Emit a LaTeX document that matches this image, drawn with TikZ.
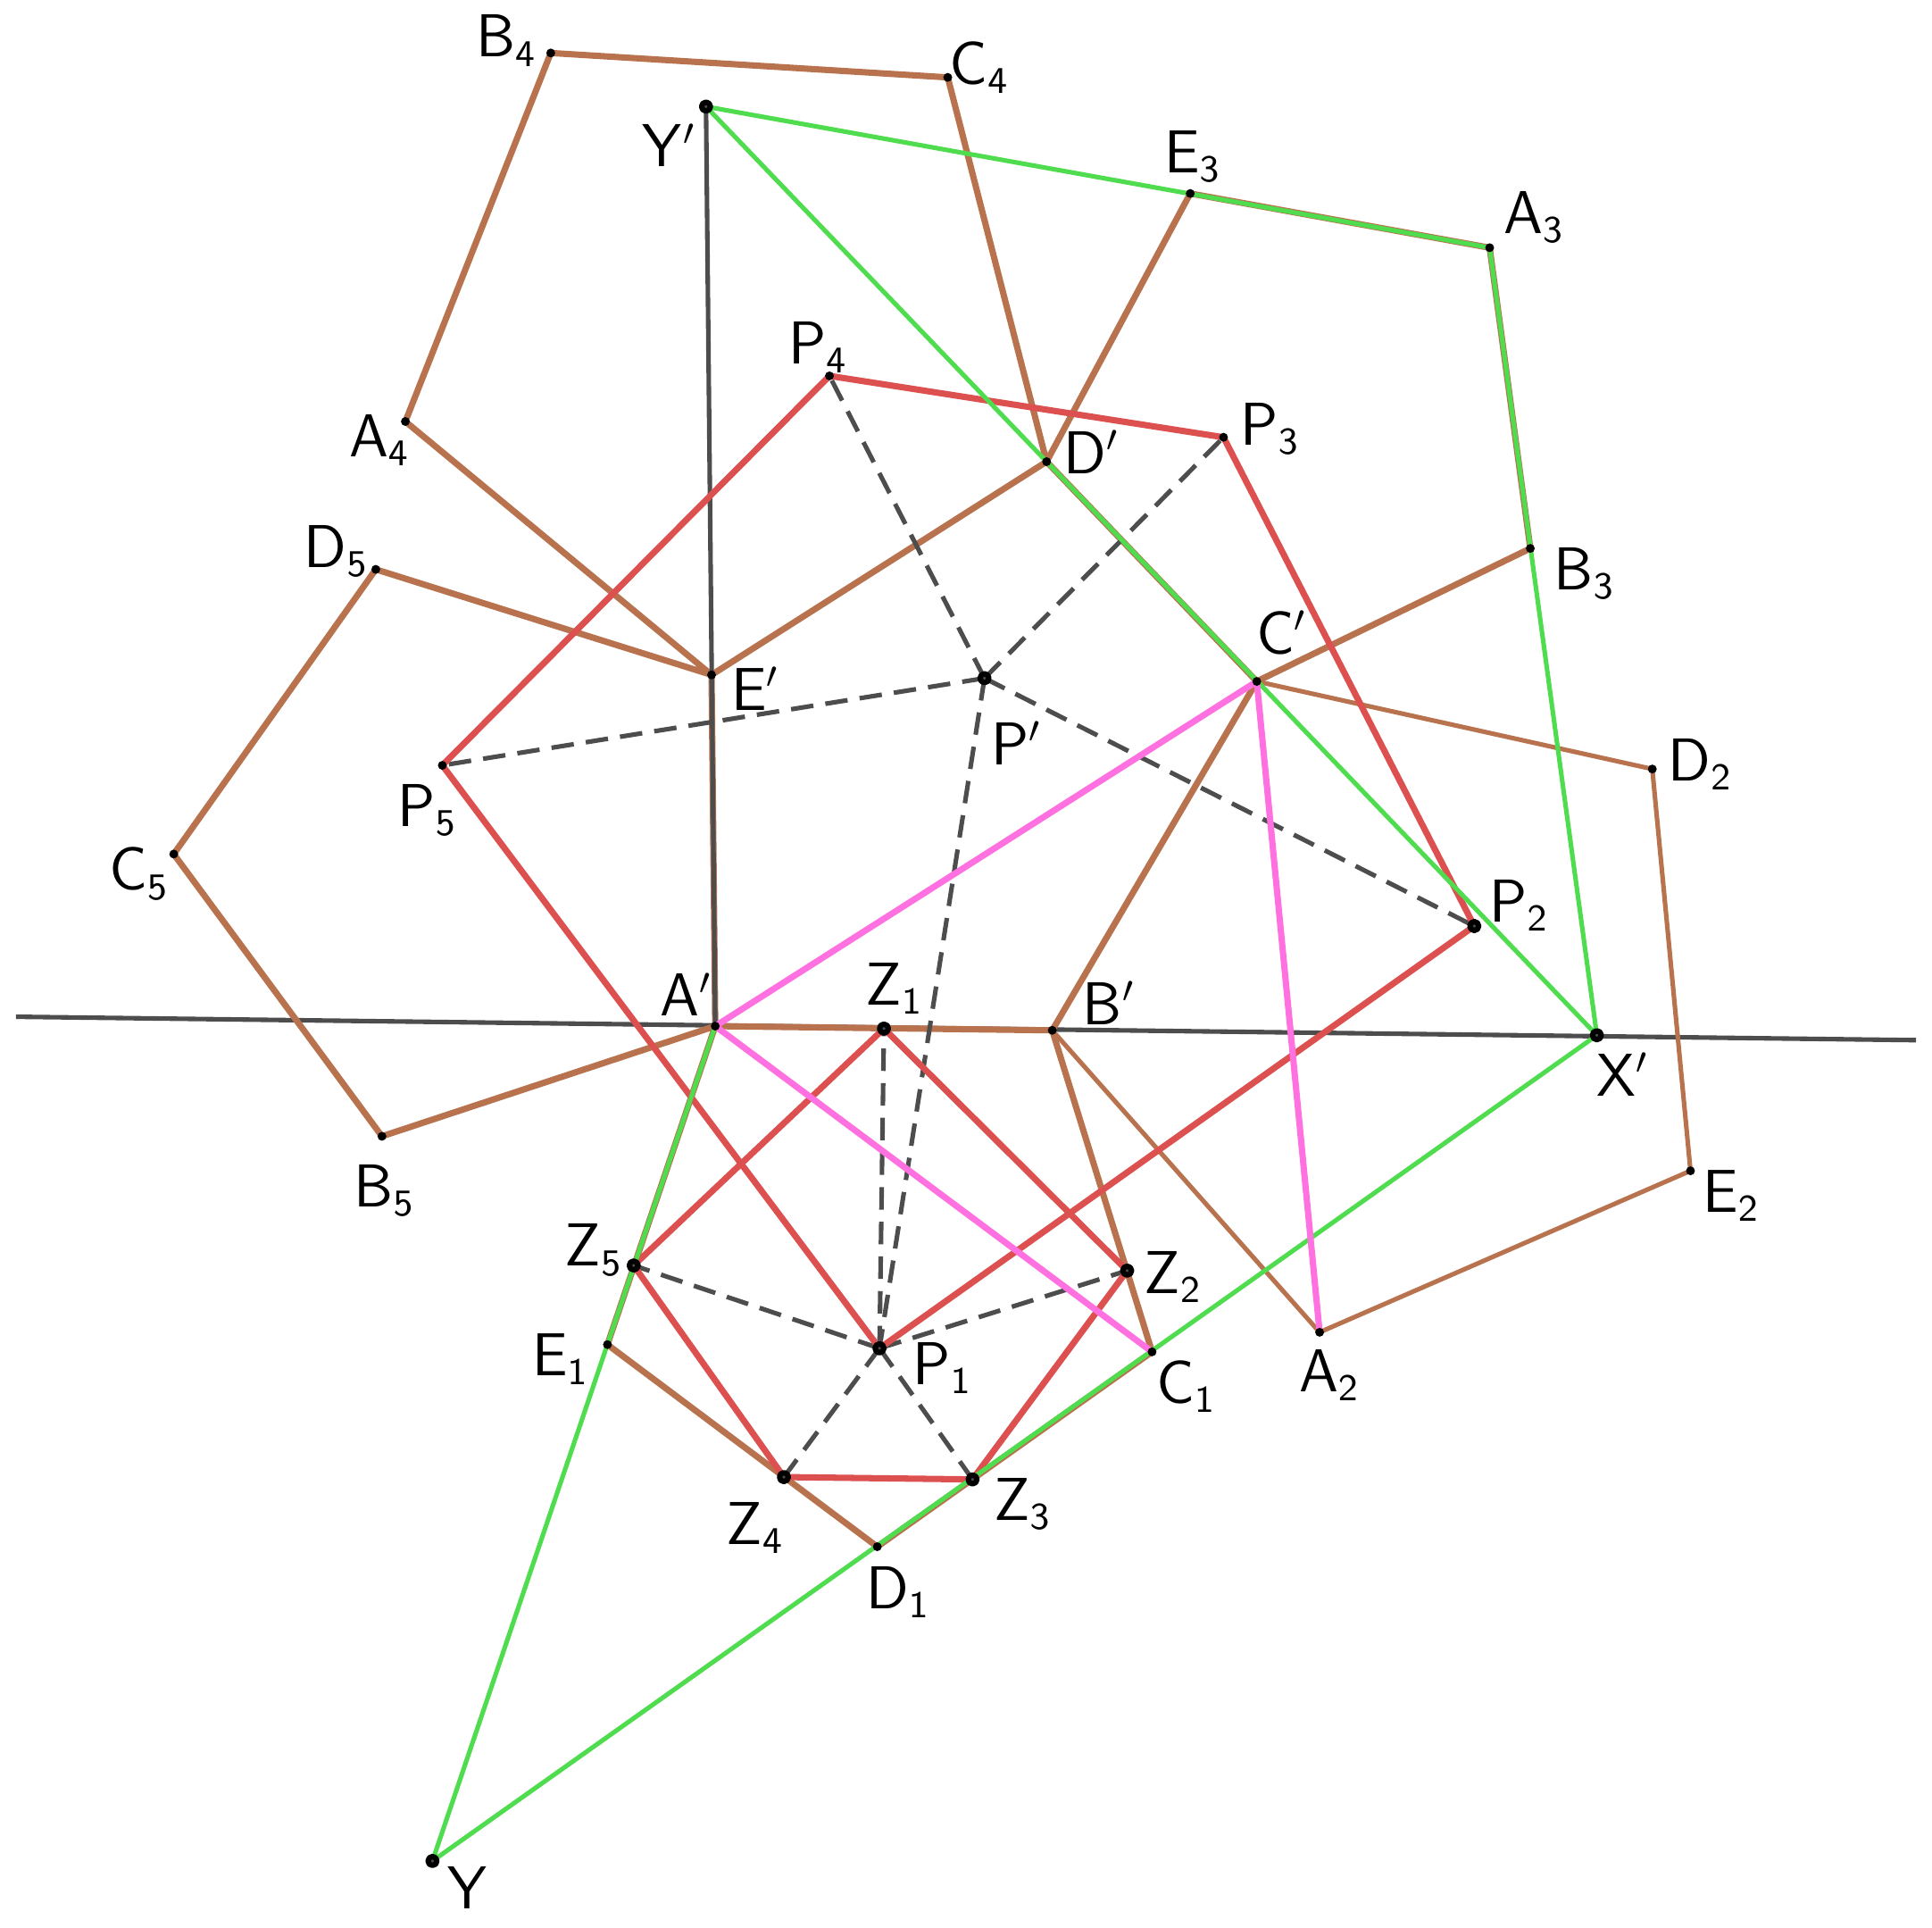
\documentclass[tikz,border=0pt]{standalone}
\definecolor{cbrown}{HTML}{B8734E}
\definecolor{cred}{HTML}{DD5050}
\definecolor{cgreen}{HTML}{4FDD4F}
\definecolor{cpink}{HTML}{FF70E0}
\definecolor{cgray}{HTML}{4D4D4D}
\begin{document}
\begin{tikzpicture}[x=0.01cm,y=-0.01cm,line join=round,font=\fontsize{13.3}{16}\selectfont,
	thickb/.style={cbrown,line width=1.45pt},
	thinb/.style={cbrown,line width=1.05pt},
	redl/.style={cred,line width=1.45pt},
	greenl/.style={cgreen,line width=1.05pt},
	pinkl/.style={cpink,line width=1.45pt},
	grayl/.style={cgray,line width=1.05pt},
	dashl/.style={cgray,line width=1.05pt,dash pattern=on 5.2pt off 2.8pt},
	lbl/.style={inner sep=0pt,text=black,scale=0.97}]
	\useasboundingbox (0,0) rectangle (1568,1564);
	\path
	(13,825) coordinate (L_1)
	(1555,844) coordinate (L_2)
	(580.5,832.6) coordinate (Ap)
	(854,836) coordinate (Bp)
	(1020,552.9) coordinate (Cp)
	(849.4,374.6) coordinate (Dp)
	(577.5,547.6) coordinate (Ep)
	(799,550.3) coordinate (Pp)
	(1296,840) coordinate (Xp)
	(573,86.5) coordinate (Yp)
	(351,1510) coordinate (Y)
	(935,1096.9) coordinate (C_1)
	(712,1255) coordinate (D_1)
	(493,1091) coordinate (E_1)
	(1071,1081) coordinate (A_2)
	(1341,624) coordinate (D_2)
	(1372,950) coordinate (E_2)
	(1209,201) coordinate (A_3)
	(1242,445) coordinate (B_3)
	(966,157) coordinate (E_3)
	(329,342) coordinate (A_4)
	(447,43) coordinate (B_4)
	(769.2,62.8) coordinate (C_4)
	(310,922) coordinate (B_5)
	(141,693) coordinate (C_5)
	(305,462) coordinate (D_5)
	(713.8,1094) coordinate (P_1)
	(1196.5,751.4) coordinate (P_2)
	(993,354.8) coordinate (P_3)
	(673.2,305) coordinate (P_4)
	(359,621) coordinate (P_5)
	(717.4,834.6) coordinate (Z_1)
	(914.8,1031) coordinate (Z_2)
	(789.3,1200.4) coordinate (Z_3)
	(636.2,1198.5) coordinate (Z_4)
	(514.3,1026.8) coordinate (Z_5)
	;
	\draw[grayl] (L_1)--(L_2);
	\draw[thinb] (Bp)--(A_2)--(E_2)--(D_2)--(Cp);
	\draw[thickb]
	(Ap)--(Bp)--(Cp)--(Dp)--(Ep)--cycle
	(Bp)--(C_1)--(D_1)--(E_1)--(Ap)
	(Cp)--(B_3)--(A_3)--(E_3)--(Dp)
	(Dp)--(C_4)--(B_4)--(A_4)--(Ep)
	(Ep)--(D_5)--(C_5)--(B_5)--(Ap)
	;
	\draw[grayl] (Yp)--(Ap);
	\foreach \x in {P_1,P_2,P_3,P_4,P_5} \draw[dashl] (Pp)--(\x);
	\foreach \x in {Z_1,Z_2,Z_3,Z_4,Z_5} \draw[dashl] (P_1)--(\x);
	\draw[redl]
	(P_1)--(P_2)--(P_3)--(P_4)--(P_5)--cycle
	(Z_1)--(Z_2)--(Z_3)--(Z_4)--(Z_5)--cycle
	;
	\draw[greenl] (Yp)--(A_3)--(Xp)--cycle (Xp)--(Y)--(Ap);
	\draw[pinkl] (C_1)--(Ap)--(Cp)--(A_2);
	\foreach \x in {Ap,Bp,Cp,Dp,Ep,C_1,D_1,E_1,A_2,D_2,E_2,A_3,B_3,E_3,A_4,B_4,C_4,B_5,C_5,D_5,P_3,P_4,P_5} \fill (\x) circle (3.6);
	\foreach \x in {Pp,Xp,Yp,Y,P_1,P_2,Z_1,Z_2,Z_3,Z_4,Z_5} \draw[black,fill=cgray,line width=1.25pt] (\x) circle (3.6);
	\foreach \n/\x/\y/\t in {lB_4/411/33/B_4,lC_4/795/55/C_4,lYp/543/118/Y',lE_3/968/127/E_3,lA_3/1245/176/A_3,
		lP_4/664/282/P_4,lP_3/1031/348/P_3,lA_4/308/357/A_4,lDp/886/367/D',lB_3/1286/465/B_3,lD_5/273/447/D_5,
		lEp/613/559/E',lPp/825/603/P',lCp/1040/513/C',lP_5/347/657/P_5,lD_2/1380/620/D_2,lC_5/113/709/C_5,
		lP_2/1233/735/P_2,lAp/557/807/A',lZ_1/726/802/Z_1,lBp/900/814/B',lXp/1317/872/X',lB_5/312/966/B_5,
		lE_2/1405/970/E_2,lZ_5/482/1014/Z_5,lZ_2/952/1036/Z_2,lE_1/455/1103/E_1,lA_2/1079/1116/A_2,
		lP_1/765/1110/P_1,lC_1/963/1125/C_1,lZ_4/613/1240/Z_4,lZ_3/830/1220/Z_3,lD_1/729/1292/D_1,lY/380/1532/Y}
	\node[lbl] (\n) at (\x,\y) {$\mathsf{\t}$};
\end{tikzpicture}
\end{document}
